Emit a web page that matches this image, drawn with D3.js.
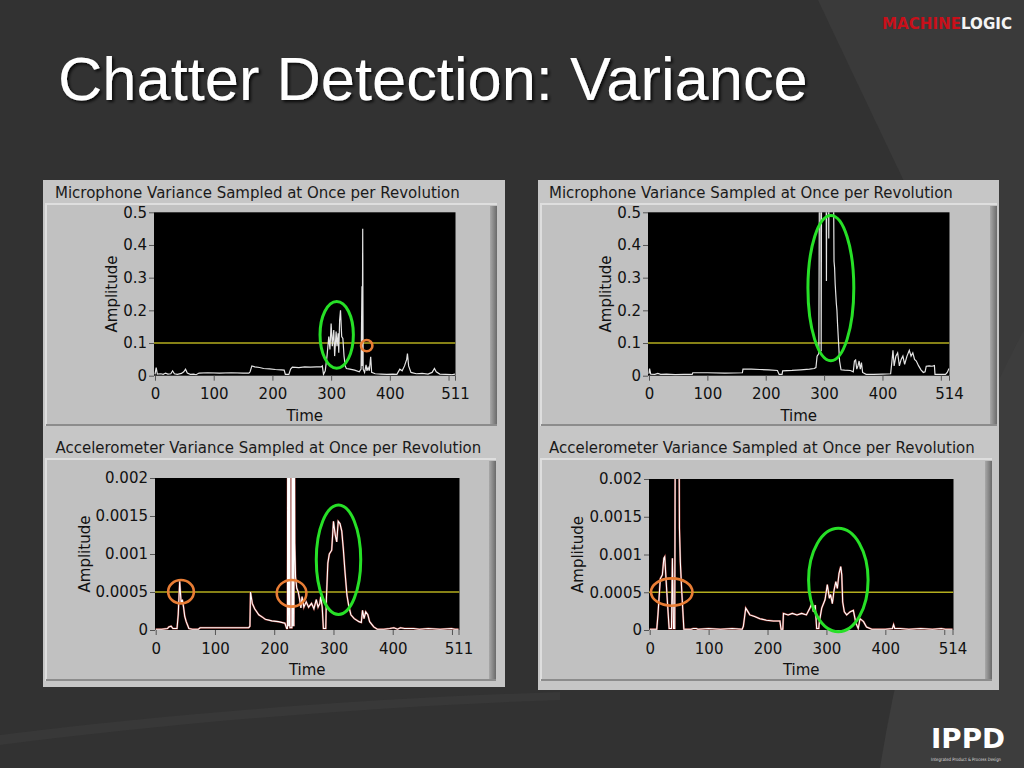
<!DOCTYPE html>
<html><head><meta charset="utf-8">
<script src="https://cdnjs.cloudflare.com/ajax/libs/d3/7.8.5/d3.min.js"></script>
<style>html,body{margin:0;padding:0;background:#323232;overflow:hidden}</style>
</head><body>
<svg id="c" width="1024" height="768"></svg>
<script>
// ---------------- DATA ----------------
const slideTitle = "Chatter Detection: Variance";
const micTitle = "Microphone Variance Sampled at Once per Revolution";
const accTitle = "Accelerometer Variance Sampled at Once per Revolution";
const xAxisTitle = "Time";
const yAxisTitle = "Amplitude";

const micYTicks = [0, 0.1, 0.2, 0.3, 0.4, 0.5];
const micYLabels = ["0", "0.1", "0.2", "0.3", "0.4", "0.5"];
const accYTicks = [0, 0.0005, 0.001, 0.0015, 0.002];
const accYLabels = ["0", "0.0005", "0.001", "0.0015", "0.002"];
const xTicksA = [0, 100, 200, 300, 400, 500, 511];
const xLabelsA = ["0", "100", "200", "300", "400", "", "511"];
const xTicksB = [0, 100, 200, 300, 400, 500, 514];
const xLabelsB = ["0", "100", "200", "300", "400", "", "514"];

const micThreshold = 0.1;
const accThreshold = 0.0005;

// [time, amplitude]
const micLeft = [[0,0.004],[2,0.025],[4,0.005],[10,0.006],[14,0.004],[18,0.008],[22,0.005],[27,0.006],[30,0.015],[33,0.006],[38,0.004],[45,0.007],[49,0.012],[52,0.02],[55,0.008],[60,0.004],[66,0.005],[70,0.003],[75,0.008],[90,0.009],[110,0.008],[130,0.009],[150,0.008],[160,0.008],[162,0.012],[165,0.03],[170,0.027],[178,0.025],[185,0.022],[195,0.021],[205,0.019],[215,0.018],[220,0.017],[222,0.004],[228,0.004],[231,0.02],[234,0.026],[245,0.025],[255,0.027],[265,0.026],[275,0.027],[283,0.027],[285,0.03],[287,0.004],[290,0.015],[293,0.06],[296,0.12],[298,0.08],[300,0.16],[302,0.09],[304.5,0.14],[306,0.06],[308.5,0.135],[310,0.09],[312,0.13],[313,0.07],[314.5,0.17],[316,0.2],[318,0.12],[320,0.114],[322,0.06],[324,0.03],[326,0.022],[332,0.02],[340,0.017],[348,0.012],[351,0.02],[352.5,0.274],[353,0.03],[353.8,0.45],[354.6,0.02],[357,0.01],[359.5,0.033],[361,0.015],[363,0.025],[365,0.015],[367.4,0.058],[369,0.01],[375,0.006],[385,0.005],[395,0.004],[405,0.005],[412,0.004],[417,0.02],[421,0.015],[425,0.03],[428.7,0.05],[430,0.068],[432,0.03],[436,0.01],[445,0.006],[455,0.007],[465,0.005],[472,0.01],[476,0.022],[479,0.012],[485,0.005],[495,0.004],[505,0.003],[511,0.005]];

const micRight = [[0,0.006],[1,0.022],[3,0.005],[10,0.004],[15,0.007],[20,0.004],[30,0.005],[45,0.003],[60,0.004],[74,0.004],[75,0.009],[100,0.009],[130,0.008],[160,0.009],[161,0.02],[175,0.02],[190,0.019],[205,0.018],[220,0.016],[223,0.004],[228,0.004],[229,0.015],[245,0.016],[260,0.018],[275,0.02],[283,0.022],[286,0.025],[288,0.06],[291,0.068],[292.5,0.9],[294,0.9],[295,0.075],[296,0.9],[303,0.9],[304,0.29],[305,0.9],[307,0.9],[308,0.42],[309,0.9],[315,0.9],[317,0.35],[318,0.33],[319,0.28],[320,0.25],[321,0.22],[322,0.2],[323,0.16],[324.5,0.11],[326.5,0.045],[329,0.018],[335,0.017],[345,0.016],[350,0.012],[352,0.045],[354,0.048],[356,0.02],[358,0.03],[360,0.045],[362,0.02],[364,0.04],[366,0.01],[372,0.004],[385,0.004],[400,0.005],[414,0.006],[416,0.04],[418,0.078],[420,0.03],[423,0.06],[426,0.07],[429,0.03],[432,0.05],[435,0.06],[438,0.035],[442,0.06],[446,0.078],[449,0.06],[452,0.07],[455,0.05],[458,0.045],[462,0.03],[466,0.018],[470,0.01],[473,0.012],[475,0.029],[480,0.03],[485,0.029],[489,0.031],[490,0.004],[500,0.004],[508,0.004],[511,0.01],[514,0.022]];

const accLeft = [[0,0.00001],[10,0.00001],[20,0.00002],[22,0.00004],[26,0.00005],[29,0.00002],[36,0.00002],[38,0.0002],[40.5,0.00064],[43,0.00035],[45,0.0004],[47,0.0003],[49,0.00018],[51.5,0.00011],[56,0.00002],[62,0.00001],[72,0.00001],[75,0.00003],[100,0.00003],[130,0.00003],[157,0.00003],[159,0.00005],[160,0.0005],[163,0.00035],[167,0.00028],[174,0.0002],[180,0.00017],[185,0.00014],[196,0.00012],[207,0.00011],[218,0.00009],[221,0.00002],[222.3,0.00002],[222.8,0.003],[223.8,0.00005],[224.8,0.003],[225.8,0.00005],[226.3,0.003],[226.6,0.00003],[229.8,0.00003],[230.2,0.003],[231.2,0.00005],[232.2,0.003],[233.2,0.00005],[234,0.003],[234.7,0.00114],[236,0.0007],[238,0.00055],[240.5,0.0005],[243,0.0004],[245,0.00029],[247,0.00044],[250,0.0003],[254,0.00037],[258,0.0003],[263,0.00035],[267,0.00028],[271,0.0004],[274,0.0003],[277,0.00035],[278.5,0.00044],[281,0.0003],[283,0.00002],[287,0.00002],[288,0.0004],[290.5,0.00088],[293,0.001],[297,0.00105],[300,0.00143],[303,0.00125],[305.5,0.00116],[308,0.00143],[311,0.0014],[314,0.0013],[316.6,0.00107],[319.4,0.00077],[322.7,0.00046],[325.5,0.00033],[329.4,0.0002],[335,0.00015],[343,0.00011],[347,0.0001],[349,0.00026],[351.6,0.00015],[354.4,0.00024],[358,0.0002],[361,0.00011],[368,0.00004],[374,0.00001],[385,0.00001],[395,0.00002],[402,0.00003],[408,0.00001],[413,0.00003],[420,0.00002],[435,0.00002],[445,0.00001],[460,0.00002],[480,0.00001],[499,0.00002],[505,0.00001],[511,0.00001]];

const accRight = [[0,0.00001],[12,0.00001],[14,0.0002],[18,0.00068],[21.5,0.00073],[24,0.00095],[25.5,0.00097],[28.3,0.0006],[30,0.00038],[33,0.00002],[37,0.00002],[38.5,0.00095],[40.5,0.00002],[42.5,0.00002],[43.5,0.003],[49.5,0.003],[50.5,0.00135],[52,0.0009],[54.5,0.0005],[58,0.00001],[70,0.00001],[74,0.00002],[79,0.00002],[82,0.00001],[100,0.00002],[120,0.00001],[140,0.00002],[157,0.00001],[159,0.00005],[163,0.00029],[167,0.00024],[170,0.0002],[178,0.00018],[187,0.00015],[198,0.00013],[210,0.00012],[221,0.00012],[223,0.00001],[226,0.00001],[227,0.00022],[235,0.0002],[242,0.00022],[250,0.0002],[258,0.00022],[266,0.0002],[270,0.00026],[272,0.00029],[275,0.00035],[278,0.00024],[281,0.00033],[283.4,0.00002],[287,0.00002],[288,0.00011],[292,0.00029],[297.6,0.0004],[301.5,0.0006],[305,0.00042],[307,0.00047],[310,0.00035],[313,0.00053],[316,0.00064],[318.5,0.00055],[321.4,0.00075],[324.3,0.00084],[326,0.00073],[327.6,0.00037],[330.4,0.00024],[334.4,0.0002],[340,0.00024],[345.7,0.00026],[350,0.00009],[354,0.00002],[357,0.00015],[363,0.00011],[368,0.00004],[377,0.00001],[386,0.00001],[400,0.00001],[412,0.00002],[414,0.00007],[416,0.00002],[425,0.00002],[440,0.00001],[460,0.00002],[480,0.00001],[495,0.00002],[502,0.00001],[514,0.00001]];

// annotation ellipses in data units: [time, amplitude, halfWidthTime, halfHeightAmp]
const micLeftMarks = [{c:"green", e:[309.5,0.125,28.4,0.102]}, {c:"orange", e:[360.6,0.092,9.7,0.0174]}];
const micRightMarks = [{c:"green", e:[311.6,0.268,39.3,0.222]}];
const accLeftMarks = [{c:"green", e:[308.5,0.000925,37.5,0.00072]}, {c:"orange", e:[42.7,0.000504,21.7,0.000154]}, {c:"orange", e:[229.3,0.000483,25,0.000175]}];
const accRightMarks = [{c:"green", e:[320.2,0.000662,50.5,0.000685]}, {c:"orange", e:[37.4,0.000503,35.2,0.000181]}];

// ---------------- DRAWING ----------------
const svg = d3.select("#c");
const defs = svg.append("defs");
const sh = defs.append("filter").attr("id","tshadow").attr("x","-5%").attr("y","-20%").attr("width","110%").attr("height","140%");
sh.append("feDropShadow").attr("dx",2).attr("dy",2).attr("stdDeviation",1.5).attr("flood-color","#000").attr("flood-opacity",0.8);
const grad = defs.append("linearGradient").attr("id","rshadow");
grad.append("stop").attr("offset","0").attr("stop-color","#a8a8a8");
grad.append("stop").attr("offset","1").attr("stop-color","#6a6a6a");

// background
svg.append("rect").attr("width",1024).attr("height",768).attr("fill","#323232");
svg.append("path").attr("d","M818,0 C870,110 960,300 1024,430 L1024,0 Z").attr("fill","#3a3a3a");
svg.append("path").attr("d","M1024,330 C955,460 905,610 880,768 L1024,768 Z").attr("fill","#3d3d3d");
svg.append("path").attr("d","M0,735 C180,712 380,698 560,692 L560,700 C380,706 180,722 0,745 Z").attr("fill","#383838");

function fit(sel, target) {
  const w = sel.node().getComputedTextLength();
  const fs = parseFloat(sel.attr("font-size"));
  sel.attr("font-size", fs * target / w);
}

// title
const tt = svg.append("text").attr("x",58).attr("y",100).attr("fill","#fff")
  .attr("font-family","'Liberation Sans Narrow','Arial Narrow','Liberation Sans',sans-serif")
  .attr("font-size",60).attr("filter","url(#tshadow)").text(slideTitle);
fit(tt, 750);

// MachineLogic logo
const lg = svg.append("text").attr("x",882).attr("y",29).attr("font-family","'DejaVu Sans Condensed','DejaVu Sans',sans-serif")
  .attr("font-weight","bold").attr("font-size",15).attr("textLength",130).attr("lengthAdjust","spacingAndGlyphs");
lg.append("tspan").attr("fill","#c8101a").text("MACHINE");
lg.append("tspan").attr("fill","#f4f4f4").text("LOGIC");

// IPPD logo
svg.append("text").attr("x",931).attr("y",748).attr("fill","#fff").attr("font-family","'DejaVu Sans',sans-serif")
  .attr("font-weight","bold").attr("font-size",26).attr("textLength",74).attr("lengthAdjust","spacingAndGlyphs").text("IPPD");
svg.append("text").attr("x",931).attr("y",761).attr("fill","#ddd").attr("font-family","'DejaVu Sans',sans-serif")
  .attr("font-size",4.5).attr("textLength",70).attr("lengthAdjust","spacingAndGlyphs").text("Integrated Product & Process Design");

// gray panels
function panelBox(x, y, w, h) {
  svg.append("rect").attr("x",x).attr("y",y).attr("width",w).attr("height",h).attr("fill","#c6c6c6");
}
function innerFrame(x, y, w, h) {
  const g = svg.append("g");
  g.append("rect").attr("x",x).attr("y",y).attr("width",w).attr("height",h).attr("fill","#c1c1c1");
  g.append("path").attr("d",`M${x},${y+h} L${x},${y} L${x+w},${y}`).attr("fill","none").attr("stroke","#dedede").attr("stroke-width",2);
  g.append("rect").attr("x",x+w-7).attr("y",y+2).attr("width",7).attr("height",h-2).attr("fill","url(#rshadow)");
  g.append("line").attr("x1",x).attr("x2",x+w).attr("y1",y+h-1).attr("y2",y+h-1).attr("stroke","#8c8c8c").attr("stroke-width",2);
}
panelBox(43,180,462,507);
panelBox(538,180,461,510);
innerFrame(46,204,451,222);
innerFrame(46,459,450,222);
innerFrame(541,204,456,222);
innerFrame(541,459,451,222);

const FONT = "'DejaVu Sans',Verdana,sans-serif";
const colors = {green:"#27e027", orange:"#e87d35"};
let clipId = 0;

function drawChart(o) {
  const x = d3.scaleLinear().domain(o.xDomain).range(o.xRange);
  const y = d3.scaleLinear().domain(o.yDomain).range(o.yRange);
  const g = svg.append("g");
  // title
  const t = g.append("text").attr("x",o.titleX).attr("y",o.titleY).attr("fill","#1a1a1a")
    .attr("font-family",FONT).attr("font-size",15).text(o.title);
  fit(t, o.titleW);
  // plot bg
  const px0 = o.plotX[0], px1 = o.plotX[1], py0 = o.yRange[1], py1 = o.yRange[0];
  g.append("rect").attr("x",px0).attr("y",py0).attr("width",px1-px0).attr("height",py1-py0).attr("fill","#000");
  const id = "clip" + (clipId++);
  defs.append("clipPath").attr("id",id).append("rect").attr("x",px0).attr("y",py0).attr("width",px1-px0).attr("height",py1-py0);
  const pg = g.append("g").attr("clip-path",`url(#${id})`);
  // threshold
  pg.append("line").attr("x1",px0).attr("x2",px1).attr("y1",y(o.threshold)).attr("y2",y(o.threshold))
    .attr("stroke","#b3ad1e").attr("stroke-width",1.3);
  const line = d3.line().x(d => x(d[0])).y(d => y(d[1]));
  if (o.red) {
    pg.append("path").datum(o.data).attr("d",line).attr("fill","none").attr("stroke","#b2443c").attr("stroke-width",2.0).attr("stroke-opacity",0.85);
    pg.append("path").datum(o.data).attr("d",line).attr("fill","none").attr("stroke","#fff").attr("stroke-width",1.1);
  } else {
    pg.append("path").datum(o.data).attr("d",line).attr("fill","none").attr("stroke","#e4e4e4").attr("stroke-width",1.2);
  }
  // axes
  const ya = d3.axisLeft(y).tickValues(o.yTicks).tickFormat((d,i) => o.yLabels[i]).tickSize(5).tickPadding(2);
  const yg = g.append("g").attr("transform",`translate(${px0},0)`).call(ya);
  const xa = d3.axisBottom(x).tickValues(o.xTicks).tickFormat((d,i) => o.xLabels[i]).tickSize(5).tickPadding(8);
  const xg = g.append("g").attr("transform",`translate(0,${py1})`).call(xa);
  [yg, xg].forEach(a => {
    a.select(".domain").remove();
    a.selectAll("line").attr("stroke","#555");
    a.selectAll("text").attr("fill","#111").attr("font-family",FONT).attr("font-size",15);
  });
  // axis titles
  g.append("text").attr("x",(px0+px1)/2).attr("y",py1+o.timeDy).attr("text-anchor","middle").attr("fill","#111")
    .attr("font-family",FONT).attr("font-size",15).text(xAxisTitle);
  g.append("text").attr("transform",`translate(${o.ampX},${(py0+py1)/2}) rotate(-90)`).attr("dy","0.35em")
    .attr("text-anchor","middle").attr("fill","#111").attr("font-family",FONT).attr("font-size",15).text(yAxisTitle);
  // annotations
  o.marks.forEach(m => {
    const [tc, vc, rt, rv] = m.e;
    g.append("ellipse").attr("cx",x(tc)).attr("cy",y(vc))
      .attr("rx",Math.abs(x(tc+rt)-x(tc))).attr("ry",Math.abs(y(vc+rv)-y(vc)))
      .attr("fill","none").attr("stroke",colors[m.c]).attr("stroke-width",m.c==="green"?3:2.6);
  });
}

drawChart({title:micTitle, titleX:55, titleY:198, titleW:405, data:micLeft, red:false,
  xDomain:[0,511], xRange:[155,455], plotX:[154,455.5], yDomain:[0,0.5], yRange:[375.7,212.3],
  yTicks:micYTicks, yLabels:micYLabels, xTicks:xTicksA, xLabels:xLabelsA, threshold:micThreshold,
  timeDy:45, ampX:111.7, marks:micLeftMarks});
drawChart({title:micTitle, titleX:549, titleY:198, titleW:404, data:micRight, red:false,
  xDomain:[0,514], xRange:[649,949], plotX:[648,949.5], yDomain:[0,0.5], yRange:[375.7,212.3],
  yTicks:micYTicks, yLabels:micYLabels, xTicks:xTicksB, xLabels:xLabelsB, threshold:micThreshold,
  timeDy:45, ampX:605.3, marks:micRightMarks});
drawChart({title:accTitle, titleX:55.5, titleY:453, titleW:426, data:accLeft, red:true,
  xDomain:[0,511], xRange:[155.7,458.5], plotX:[155,459.5], yDomain:[0,0.002], yRange:[630,478],
  yTicks:accYTicks, yLabels:accYLabels, xTicks:xTicksA, xLabels:xLabelsA, threshold:accThreshold,
  timeDy:44.5, ampX:85, marks:accLeftMarks});
drawChart({title:accTitle, titleX:549, titleY:453, titleW:426, data:accRight, red:true,
  xDomain:[0,514], xRange:[649.7,952.5], plotX:[649,953.5], yDomain:[0,0.002], yRange:[630,479],
  yTicks:accYTicks, yLabels:accYLabels, xTicks:xTicksB, xLabels:xLabelsB, threshold:accThreshold,
  timeDy:44.5, ampX:578, marks:accRightMarks});
</script>
</body></html>
